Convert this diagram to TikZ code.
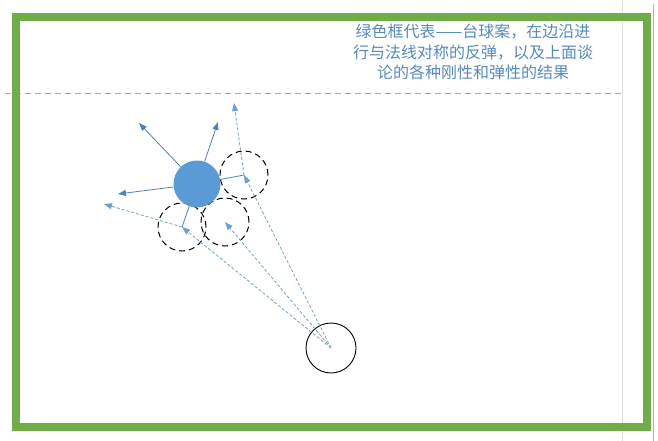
\documentclass[tikz,border=0pt]{standalone}
\usepackage{fontspec}
\newfontfamily\cjk{Noto Sans CJK SC}
\usetikzlibrary{arrows.meta}
\definecolor{framegreen}{RGB}{112,173,71}
\definecolor{ballblue}{RGB}{91,155,213}
\definecolor{arrowblue}{RGB}{79,129,189}
\definecolor{pathblue}{RGB}{110,160,205}
\definecolor{textblue}{RGB}{84,138,196}

\begin{document}
\begin{tikzpicture}[x=1pt, y=-1pt,
						table_frame/.style={draw=framegreen, line width=8pt},
						target/.style={circle, fill=ballblue, inner sep=0pt, minimum size=47pt},
						ghost/.style={circle, draw=black, line width=1pt, dash pattern=on 6pt off 4pt, inner sep=0pt, minimum size=48pt},
						cueball/.style={circle, draw=black, line width=0.9pt, inner sep=0pt, minimum size=50pt},
						ball_move/.style={-{Triangle[length=8pt,width=6pt]}, arrowblue, line width=0.8pt},
						center_line/.style={arrowblue, line width=0.8pt},
						cue_path/.style={-{Triangle[length=8pt,width=6pt]}, pathblue, line width=0.8pt, dash pattern=on 3pt off 2pt},
						note/.style={text=textblue, align=center, font=\cjk\fontsize{16}{20.7}\selectfont}
						]
						\useasboundingbox (0,0) rectangle (658,441);
						
						% 辅助线
						\draw[red!10!gray!25] (622,0) -- (622,441);
						\draw[gray!60] (653,4) -- (653,441);
						\draw[gray!70, dash pattern=on 6pt off 4pt] (5,93) -- (622,93);
						
						% 绿色框 (台球案)
						\draw[table_frame] (16,17) rectangle (647,427);
						
						% 说明文字
						\node[note] (caption) at (473,52) {绿色框代表——台球案，在边沿进\\行与法线对称的反弹，以及上面谈\\论的各种刚性和弹性的结果};
						
						% 母球与假想球
						\node[cueball] (cue) at (331,348) {};
						\node[ghost] (g1) at (244,175) {};
						\node[ghost] (g2) at (182,227) {};
						\node[ghost] (g3) at (225,222) {};
						
						% 目标球 (连心线在下面)
						\coordinate (ballc) at (197,184);
						\draw[center_line] (ballc) -- (g1.center);
						\draw[center_line] (ballc) -- (g2.center);
						\node[target] (ball) at (ballc) {};
						
						% 目标球的去向
						\coordinate (out_left) at (118,194);
						\coordinate (out_upleft) at (139,123);
						\coordinate (out_upright) at (218,122);
						\draw[ball_move] (ball) -- (out_left);
						\draw[ball_move] (ball) -- (out_upleft);
						\draw[ball_move] (ball) -- (out_upright);
						
						% 母球的路线
						\coordinate (bounce1) at (234,103);
						\coordinate (bounce2) at (104,204);
						\draw[cue_path] (cue.center) -- (g1.center);
						\draw[cue_path] (cue.center) -- (g2.center);
						\draw[cue_path] (cue.center) -- (g3.center);
						\draw[cue_path] (g1.center) -- (bounce1);
						\draw[cue_path] (g2.center) -- (bounce2);
						
					\end{tikzpicture}
\end{document}
